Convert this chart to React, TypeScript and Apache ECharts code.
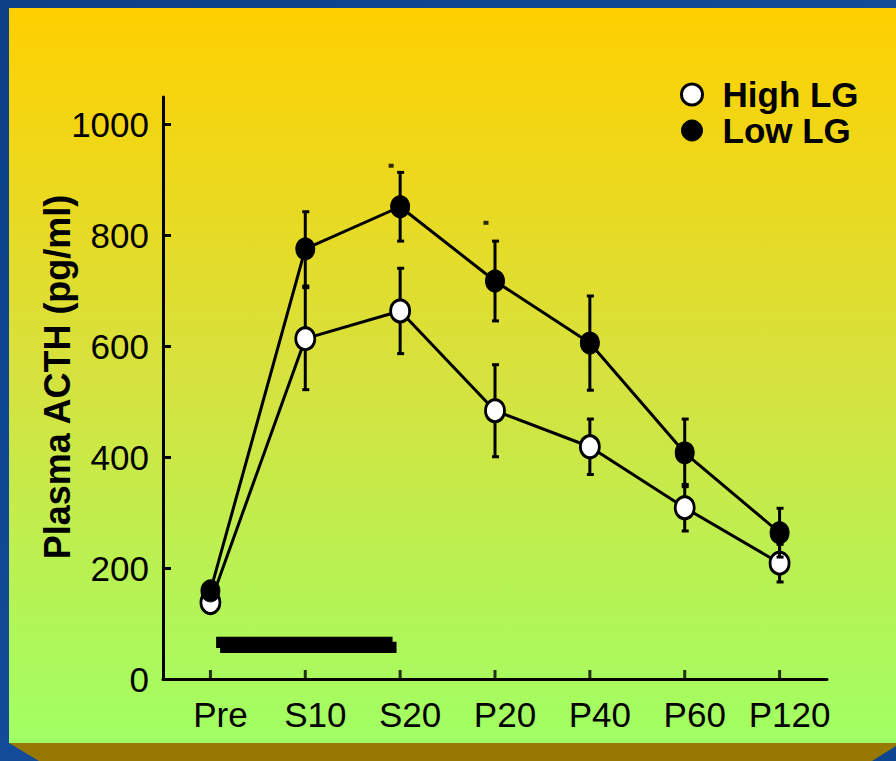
import React, { useEffect, useRef } from "react";
import * as echarts from "echarts";

const categories = ["Pre", "S10", "S20", "P20", "P40", "P60", "P120"];
const categoryIndex = [0, 1, 2, 3, 4, 5, 6];
const yTicks = [0, 200, 400, 600, 800, 1000];
const highLG = [138, 614, 664, 484, 419, 309, 209];
const highErr = [10, 92, 77, 83, 50, 42, 34];
const lowLG = [159, 776, 852, 718, 606, 408, 264];
const lowErr = [10, 67, 62, 72, 85, 61, 44];
const sigMarks = [
  [2, 926],
  [3, 823],
];
// stimulus period bar: [xStart, xEnd, yLow, yHigh] in axis units
const stimulusBar = [[0.06, 1.92, 56, 76]];

const FONT = 'Arial, "Liberation Sans", Helvetica, sans-serif';

function errRows(vals: number[], errs: number[]) {
  return vals.map((v, i) => [i, v - errs[i], v + errs[i]]);
}

function renderErr(params: any, api: any) {
  const x = api.value(0);
  const pLo = api.coord([x, api.value(1)]);
  const pHi = api.coord([x, api.value(2)]);
  return {
    type: "group",
    children: [
      {
        type: "line",
        shape: { x1: pHi[0], y1: pHi[1], x2: pLo[0], y2: pLo[1] },
        style: { stroke: "#000", lineWidth: 3 },
      },
      {
        type: "rect",
        shape: { x: pHi[0] - 3, y: pHi[1] - 1.5, width: 7, height: 3 },
        style: { fill: "#000" },
      },
      {
        type: "rect",
        shape: { x: pLo[0] - 3, y: pLo[1] - 1.5, width: 7, height: 3 },
        style: { fill: "#000" },
      },
    ],
  };
}

function renderBar(params: any, api: any) {
  const a = api.coord([api.value(0), api.value(3)]);
  const b = api.coord([api.value(1), api.value(2)]);
  const w = b[0] - a[0];
  const h = b[1] - a[1];
  return {
    type: "group",
    children: [
      { type: "rect", shape: { x: a[0], y: a[1], width: w, height: h }, style: { fill: "#000" } },
      { type: "rect", shape: { x: a[0] + 4, y: a[1] + 5, width: w, height: h }, style: { fill: "#000" } },
    ],
  };
}

export default function App() {
  const ref = useRef<HTMLDivElement>(null);
  useEffect(() => {
    document.body.style.margin = "0";
    const chart = echarts.init(ref.current!, null, { renderer: "svg" });
    const option: any = {
      animation: false,
      graphic: [
        {
          type: "rect",
          z: -20,
          silent: true,
          shape: { x: 0, y: 0, width: 896, height: 761 },
          style: {
            fill: new echarts.graphic.LinearGradient(0, 0, 1, 1, [
              { offset: 0, color: "#0b3f86" },
              { offset: 0.5, color: "#124c98" },
              { offset: 1, color: "#0d4590" },
            ]),
          },
        },
        {
          type: "rect",
          z: -19,
          silent: true,
          shape: { x: 9, y: 8, width: 887, height: 735 },
          style: {
            fill: new echarts.graphic.LinearGradient(0, 0, 0, 1, [
              { offset: 0, color: "#FFD000" },
              { offset: 0.5, color: "#D6E23E" },
              { offset: 1, color: "#A0FF64" },
            ]),
          },
        },
        {
          type: "polygon",
          z: -19,
          silent: true,
          shape: { points: [[9, 743], [896, 743], [896, 746], [872, 761], [39, 761]] },
          style: { fill: "#977800" },
        },
      ],
      legend: {
        orient: "vertical",
        left: 675,
        top: 72,
        itemGap: 1,
        itemWidth: 27,
        itemHeight: 21,
        icon: "circle",
        symbolKeepAspect: false,
        textStyle: {
          fontFamily: FONT,
          fontSize: 35,
          fontWeight: "bold",
          color: "#000",
          lineHeight: 30,
          padding: [0, 0, 0, 12],
        },
        data: [
          { name: "High LG", itemStyle: { color: "#fff", borderColor: "#000", borderWidth: 3 } },
          { name: "Low LG", itemStyle: { color: "#000", borderColor: "#000", borderWidth: 1 } },
        ],
      },
      grid: { left: 163, right: 69, top: 97, bottom: 82, containLabel: false },
      xAxis: [
        {
          type: "category",
          data: categories,
          boundaryGap: true,
          z: 10,
          axisLine: { onZero: false, lineStyle: { color: "#000", width: 3 } },
          axisTick: { show: false },
          axisLabel: {
            interval: 0,
            color: "#000",
            fontFamily: FONT,
            fontSize: 35,
            margin: 18,
            padding: [0, 0, 0, 20],
          },
          splitLine: { show: false },
        },
        { type: "value", min: -0.5, max: 6.5, show: false },
      ],
      yAxis: {
        type: "value",
        min: 0,
        max: 1050,
        z: 10,
        name: "Plasma ACTH (pg/ml)",
        nameLocation: "middle",
        nameGap: 88,
        nameMoveOverlap: false,
        nameTextStyle: {
          fontFamily: FONT,
          fontSize: 36,
          fontWeight: "bold",
          color: "#000",
          padding: [0, 0, 0, 22],
        },
        axisLine: { show: true, onZero: false, lineStyle: { color: "#000", width: 3 } },
        axisTick: { show: true, inside: true, length: 8, customValues: yTicks, lineStyle: { color: "#000", width: 3, opacity: 1 } },
        axisLabel: {
          color: "#000",
          fontFamily: FONT,
          fontSize: 35,
          margin: 14,
          customValues: yTicks,
          formatter: (v: number) => String(v),
        },
        splitLine: { show: false },
      },
      series: [
        {
          type: "scatter",
          name: "xTicks",
          data: categoryIndex.map((i) => [i, 0]),
          symbol: "rect",
          symbolSize: [3, 9],
          symbolOffset: [0, -4.5],
          itemStyle: { color: "#000" },
          clip: false,
          z: 8,
          silent: true,
        },
        {
          type: "custom",
          name: "stimulus",
          xAxisIndex: 1,
          renderItem: renderBar,
          encode: { x: [0, 1], y: [2, 3] },
          data: stimulusBar,
          z: 1,
          silent: true,
        },
        {
          type: "custom",
          name: "High LG err",
          renderItem: renderErr,
          encode: { x: 0, y: [1, 2] },
          data: errRows(highLG, highErr),
          z: 2,
          silent: true,
        },
        {
          type: "line",
          name: "High LG",
          data: highLG,
          symbol: "circle",
          symbolSize: [19, 22],
          lineStyle: { color: "#000", width: 3 },
          itemStyle: { color: "#fff", borderColor: "#000", borderWidth: 3 },
          z: 3,
        },
        {
          type: "custom",
          name: "Low LG err",
          renderItem: renderErr,
          encode: { x: 0, y: [1, 2] },
          data: errRows(lowLG, lowErr),
          z: 4,
          silent: true,
        },
        {
          type: "line",
          name: "Low LG",
          data: lowLG,
          symbol: "circle",
          symbolSize: [19, 22],
          lineStyle: { color: "#000", width: 3 },
          itemStyle: { color: "#000", borderColor: "#000", borderWidth: 1 },
          z: 5,
        },
        {
          type: "scatter",
          name: "sig",
          data: sigMarks,
          symbol: "rect",
          symbolSize: [5, 4],
          symbolOffset: [-9, 0],
          itemStyle: { color: "#000" },
          z: 6,
          silent: true,
        },
      ],
    };
    chart.setOption(option);
    return () => chart.dispose();
  }, []);
  return <div ref={ref} style={{ width: 896, height: 761 }} />;
}
